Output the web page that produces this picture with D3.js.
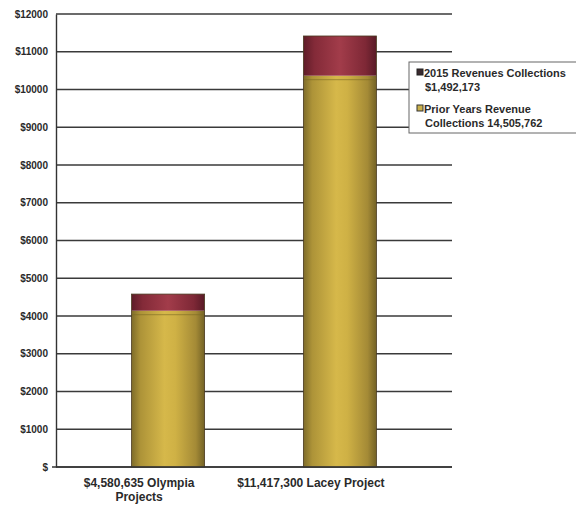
<!DOCTYPE html>
<html>
<head>
<meta charset="utf-8">
<script src="https://cdn.jsdelivr.net/npm/d3@7"></script>
<style>
  body { margin: 0; background: #fff; }
  text { font-family: "Liberation Sans", Arial, sans-serif; fill: #2a2a2a; }
</style>
</head>
<body>
<div id="chart"></div>
<script>
// data (in $ thousands)
var projects = ["$4,580,635 Olympia Projects", "$11,417,300 Lacey Project"];
var labelLines = [["$4,580,635 Olympia", "Projects"], ["$11,417,300 Lacey Project"]];
var priorYears = [4140.0, 10365.8];
var rev2015 = [440.6, 1051.5];
var yTicks = [0, 1000, 2000, 3000, 4000, 5000, 6000, 7000, 8000, 9000, 10000, 11000, 12000];
var legendLines = [["2015 Revenues Collections", "$1,492,173"], ["Prior Years Revenue", "Collections 14,505,762"]];

var W = 576, H = 512;
var margin = { top: 14, right: 124, bottom: 45, left: 56 },
  width = W - margin.left - margin.right,
  height = H - margin.top - margin.bottom;

var svg = d3.select("#chart").append("svg")
  .attr("width", W).attr("height", H);

var defs = svg.append("defs");
function cylGrad(id, stops) {
  var g = defs.append("linearGradient").attr("id", id)
    .attr("x1", "0%").attr("x2", "100%").attr("y1", "0%").attr("y2", "0%");
  stops.forEach(function (s) {
    g.append("stop").attr("offset", s[0]).attr("stop-color", s[1]);
  });
}
cylGrad("gold", [["0%", "#7e6c2a"], ["12%", "#ad9338"], ["45%", "#d6b84a"], ["60%", "#cfb145"], ["88%", "#a48a36"], ["100%", "#736226"]]);
cylGrad("red", [["0%", "#5e1c28"], ["15%", "#832a38"], ["50%", "#a23c4a"], ["85%", "#7e2836"], ["100%", "#581a26"]]);

var g = svg.append("g")
  .attr("transform", "translate(" + margin.left + "," + margin.top + ")");

var x = d3.scaleBand().domain(projects).range([0, width])
  .paddingInner(0.575).paddingOuter(0.44);
var y = d3.scaleLinear().domain([0, 12000]).range([height, 0]);

// gridlines
g.selectAll(".grid").data(yTicks).enter().append("line")
  .attr("x1", 0).attr("x2", width)
  .attr("y1", function (d) { return y(d); })
  .attr("y2", function (d) { return y(d); })
  .attr("stroke", "#3a3a3a").attr("stroke-width", 1.4);

// y axis
var yAxis = g.append("g").call(d3.axisLeft(y).tickValues(yTicks).tickSize(0).tickPadding(8)
  .tickFormat(function (d) { return d === 0 ? "$" : "$" + d; }));
yAxis.select(".domain").attr("stroke", "#333").attr("stroke-width", 1.4);
yAxis.selectAll("text").style("font-size", "10px").style("font-weight", "bold");

// stacked bars
var stacked = projects.map(function (p, i) {
  return { name: p, prior: priorYears[i], cur: rev2015[i] };
});
var bars = g.selectAll(".bar").data(stacked).enter().append("g");
bars.append("rect")
  .attr("x", function (d) { return x(d.name); })
  .attr("width", x.bandwidth())
  .attr("y", function (d) { return y(d.prior); })
  .attr("height", function (d) { return y(0) - y(d.prior); })
  .attr("fill", "url(#gold)");
bars.append("rect")
  .attr("x", function (d) { return x(d.name); })
  .attr("width", x.bandwidth())
  .attr("y", function (d) { return y(d.prior + d.cur); })
  .attr("height", function (d) { return y(d.prior) - y(d.prior + d.cur); })
  .attr("fill", "url(#red)");
// thin shading line near the top of the gold part
bars.append("line")
  .attr("x1", function (d) { return x(d.name); })
  .attr("x2", function (d) { return x(d.name) + x.bandwidth(); })
  .attr("y1", function (d) { return y(d.prior) + 4; })
  .attr("y2", function (d) { return y(d.prior) + 4; })
  .attr("stroke", "#7a6a24").attr("stroke-width", 1).attr("opacity", 0.6);
bars.append("rect")
  .attr("x", function (d) { return x(d.name); })
  .attr("width", x.bandwidth())
  .attr("y", function (d) { return y(d.prior + d.cur); })
  .attr("height", function (d) { return y(0) - y(d.prior + d.cur); })
  .attr("fill", "none").attr("stroke", "#4a3a20").attr("stroke-width", 0.8);

// x axis
g.append("line").attr("x1", -4).attr("x2", width)
  .attr("y1", height).attr("y2", height)
  .attr("stroke", "#333").attr("stroke-width", 1.4);
var xl = g.selectAll(".xlab").data(projects).enter().append("text")
  .attr("text-anchor", "middle")
  .attr("x", function (d) { return x(d) + x.bandwidth() / 2 - 29; })
  .attr("y", height + 20)
  .style("font-size", "12px").style("font-weight", "bold");
xl.selectAll("tspan").data(function (d, i) { return labelLines[i]; }).enter().append("tspan")
  .attr("x", function () { return d3.select(this.parentNode).attr("x"); })
  .attr("dy", function (d, i) { return i === 0 ? 0 : 14; })
  .text(function (d) { return d; });

// legend
var lg = svg.append("g").attr("transform", "translate(409,62)");
lg.append("rect").attr("width", 170).attr("height", 71)
  .attr("fill", "#fff").attr("stroke", "#666").attr("stroke-width", 1);
var swatches = [{ fill: "#3a2a2e", stroke: "#222" }, { fill: "#c9b04a", stroke: "#333" }];
legendLines.forEach(function (lines, i) {
  var row = lg.append("g").attr("transform", "translate(0," + (i * 36) + ")");
  row.append("rect").attr("x", 8).attr("y", 7).attr("width", 6).attr("height", 6)
    .attr("fill", swatches[i].fill).attr("stroke", swatches[i].stroke).attr("stroke-width", 1);
  row.selectAll("text").data(lines).enter().append("text")
    .attr("x", function (d, j) { return j === 0 ? 15 : 16; })
    .attr("y", function (d, j) { return 15 + j * 14; })
    .style("font-size", "11px").style("font-weight", "bold")
    .text(function (d) { return d; });
});
</script>
</body>
</html>
